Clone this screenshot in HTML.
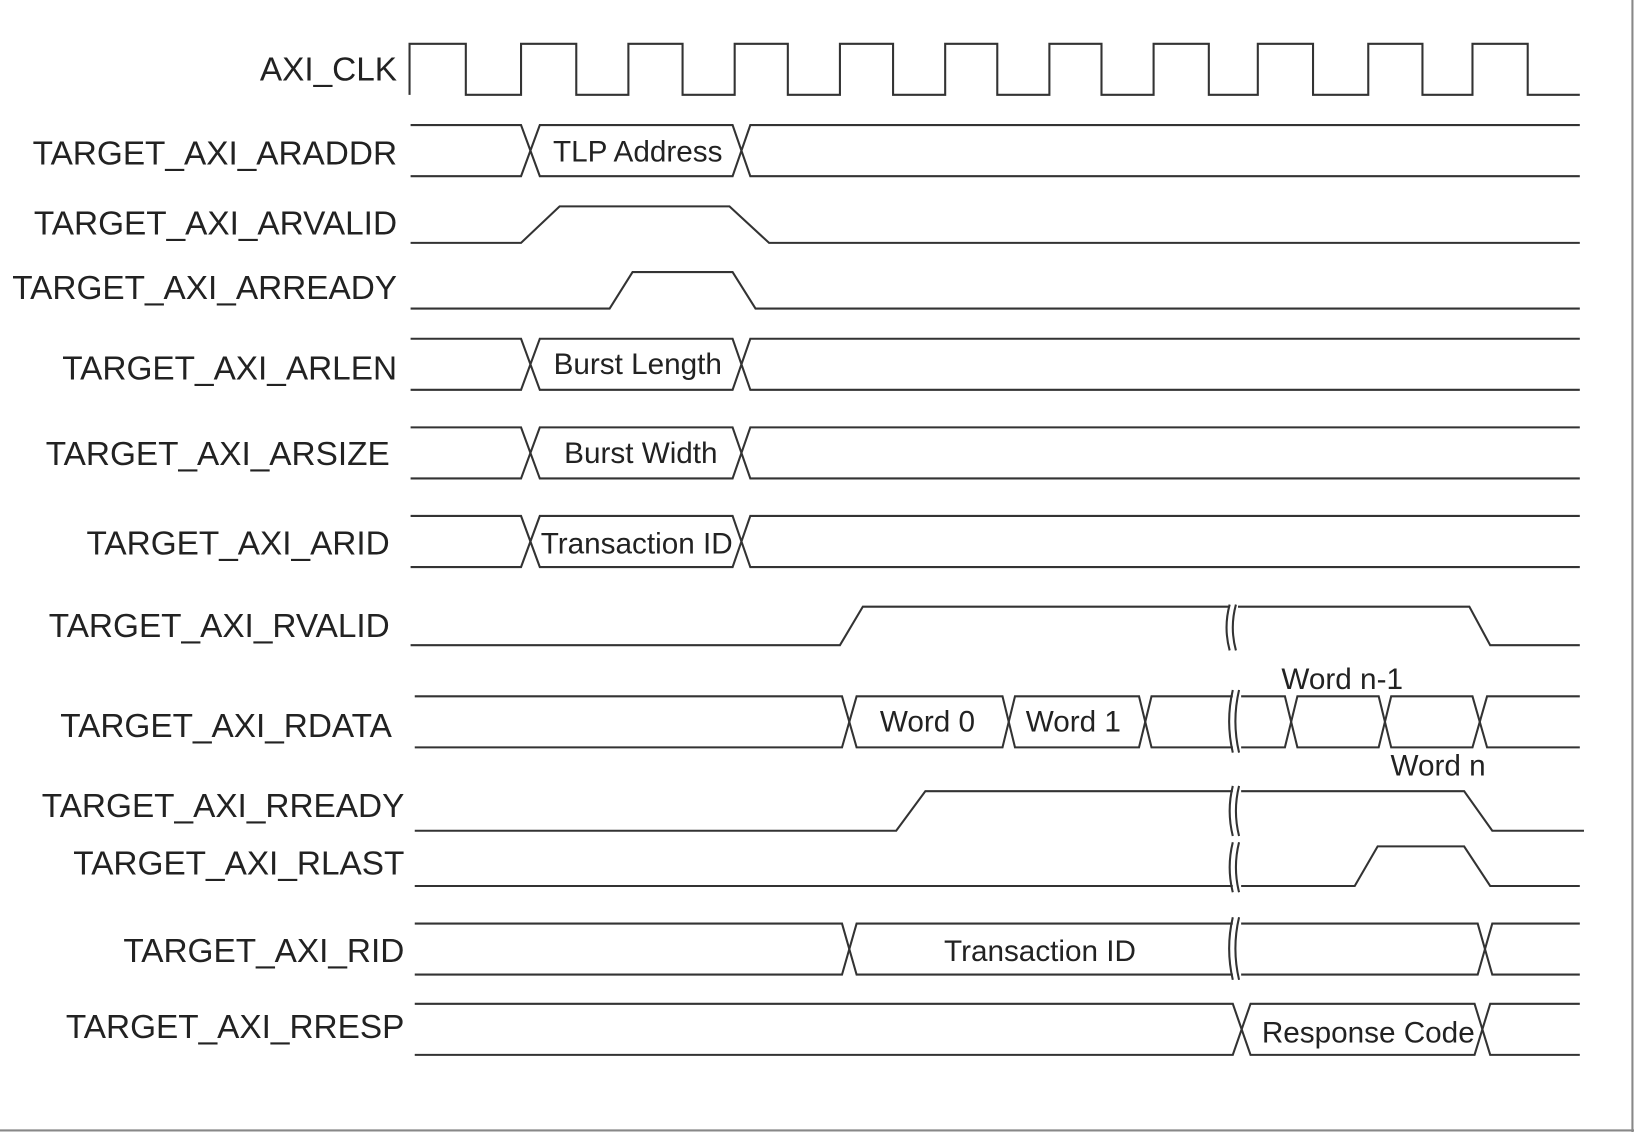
<!DOCTYPE html>
<html><head><meta charset="utf-8"><style>
html,body{margin:0;padding:0;background:#fff}
svg{display:block}
text{font-family:"Liberation Sans",Arial,sans-serif;fill:#222}
</style></head><body>
<svg width="1634" height="1132" viewBox="0 0 1568 1086" preserveAspectRatio="none" xmlns="http://www.w3.org/2000/svg">
<rect x="0" y="0" width="1568" height="1086" fill="#fff"/>
<line x1="0" y1="1084.5" x2="1568" y2="1084.5" stroke="#888" stroke-width="2"/>
<line x1="1566.5" y1="0" x2="1566.5" y2="1086" stroke="#888" stroke-width="2"/>
<g fill="none" stroke="#333" stroke-width="2">
<path d="M393 91 V42 H447 V91 H500 V42 H553 V91 H603 V42 H655 V91 H705 V42 H756 V91 H806 V42 H857 V91 H907 V42 H957 V91 H1007 V42 H1057 V91 H1107 V42 H1160 V91 H1207 V42 H1260 V91 H1313 V42 H1365 V91 H1413 V42 H1466 V91 H1516"/>
<path d="M394 120 H500 L518 169 H703 L720 120 H1516"/>
<path d="M394 169 H500 L518 120 H703 L720 169 H1516"/>
<path d="M394 233 H500 L537 198 H700 L738 233 H1516"/>
<path d="M394 296 H585 L607 261 H703 L725 296 H1516"/>
<path d="M394 325 H500 L518 374 H703 L720 325 H1516"/>
<path d="M394 374 H500 L518 325 H703 L720 374 H1516"/>
<path d="M394 410 H500 L518 459 H703 L720 410 H1516"/>
<path d="M394 459 H500 L518 410 H703 L720 459 H1516"/>
<path d="M394 495 H500 L518 544 H703 L720 495 H1516"/>
<path d="M394 544 H500 L518 495 H703 L720 544 H1516"/>
<path d="M394 619 H806 L828 582 H1410 L1430 619 H1516"/>
<path d="M398 668 H808 L822 717 H962 L974 668 H1093 L1105 717 H1233 L1245 668 H1323 L1335 717 H1413 L1427 668 H1516"/>
<path d="M398 717 H808 L822 668 H962 L974 717 H1093 L1105 668 H1233 L1245 717 H1323 L1335 668 H1413 L1427 717 H1516"/>
<path d="M398 797 H860 L888 759 H1405 L1432 797 H1520"/>
<path d="M398 850 H1300 L1322 812 H1405 L1430 850 H1516"/>
<path d="M398 886 H808 L822 935 H1418 L1432 886 H1516"/>
<path d="M398 935 H808 L822 886 H1418 L1432 935 H1516"/>
<path d="M398 963 H1183 L1200 1012 H1415 L1430 963 H1516"/>
<path d="M398 1012 H1183 L1200 963 H1415 L1430 1012 H1516"/>
</g>
<g stroke="#333" stroke-width="2" fill="#fff">
<g transform="translate(1183,602)"><rect x="-3" y="-22" width="8" height="44" stroke="none"/><path d="M-3 -22 Q-9 0 -3 22 M3 -22 Q-3 0 3 22" fill="none"/></g>
<g transform="translate(1186,692)"><rect x="-3" y="-30" width="8" height="60" stroke="none"/><path d="M-3 -30 Q-10 0 -3 30 M3 -30 Q-4 0 3 30" fill="none"/></g>
<g transform="translate(1186,778)"><rect x="-3" y="-24" width="8" height="48" stroke="none"/><path d="M-3 -24 Q-9 0 -3 24 M3 -24 Q-3 0 3 24" fill="none"/></g>
<g transform="translate(1186,832)"><rect x="-3" y="-24" width="8" height="48" stroke="none"/><path d="M-3 -24 Q-9 0 -3 24 M3 -24 Q-3 0 3 24" fill="none"/></g>
<g transform="translate(1186,910)"><rect x="-3" y="-30" width="8" height="60" stroke="none"/><path d="M-3 -30 Q-10 0 -3 30 M3 -30 Q-4 0 3 30" fill="none"/></g>
</g>
<g font-size="32" text-anchor="end">
<text x="381" y="77">AXI_CLK</text>
<text x="381" y="158">TARGET_AXI_ARADDR</text>
<text x="381" y="225">TARGET_AXI_ARVALID</text>
<text x="381" y="287">TARGET_AXI_ARREADY</text>
<text x="381" y="364">TARGET_AXI_ARLEN</text>
<text x="374" y="446">TARGET_AXI_ARSIZE</text>
<text x="374" y="532">TARGET_AXI_ARID</text>
<text x="374" y="611">TARGET_AXI_RVALID</text>
<text x="376" y="707">TARGET_AXI_RDATA</text>
<text x="388" y="784">TARGET_AXI_RREADY</text>
<text x="388" y="839">TARGET_AXI_RLAST</text>
<text x="388" y="923">TARGET_AXI_RID</text>
<text x="388" y="996">TARGET_AXI_RRESP</text>
</g>
<g font-size="28.5" text-anchor="middle">
<text x="612" y="155">TLP Address</text>
<text x="612" y="359">Burst Length</text>
<text x="615" y="444">Burst Width</text>
<text x="611" y="531">Transaction ID</text>
<text x="890" y="702">Word 0</text>
<text x="1030" y="702">Word 1</text>
<text x="1288" y="661">Word n-1</text>
<text x="1380" y="744">Word n</text>
<text x="998" y="922">Transaction ID</text>
<text x="1313" y="1000">Response Code</text>
</g>
</svg>
</body></html>
